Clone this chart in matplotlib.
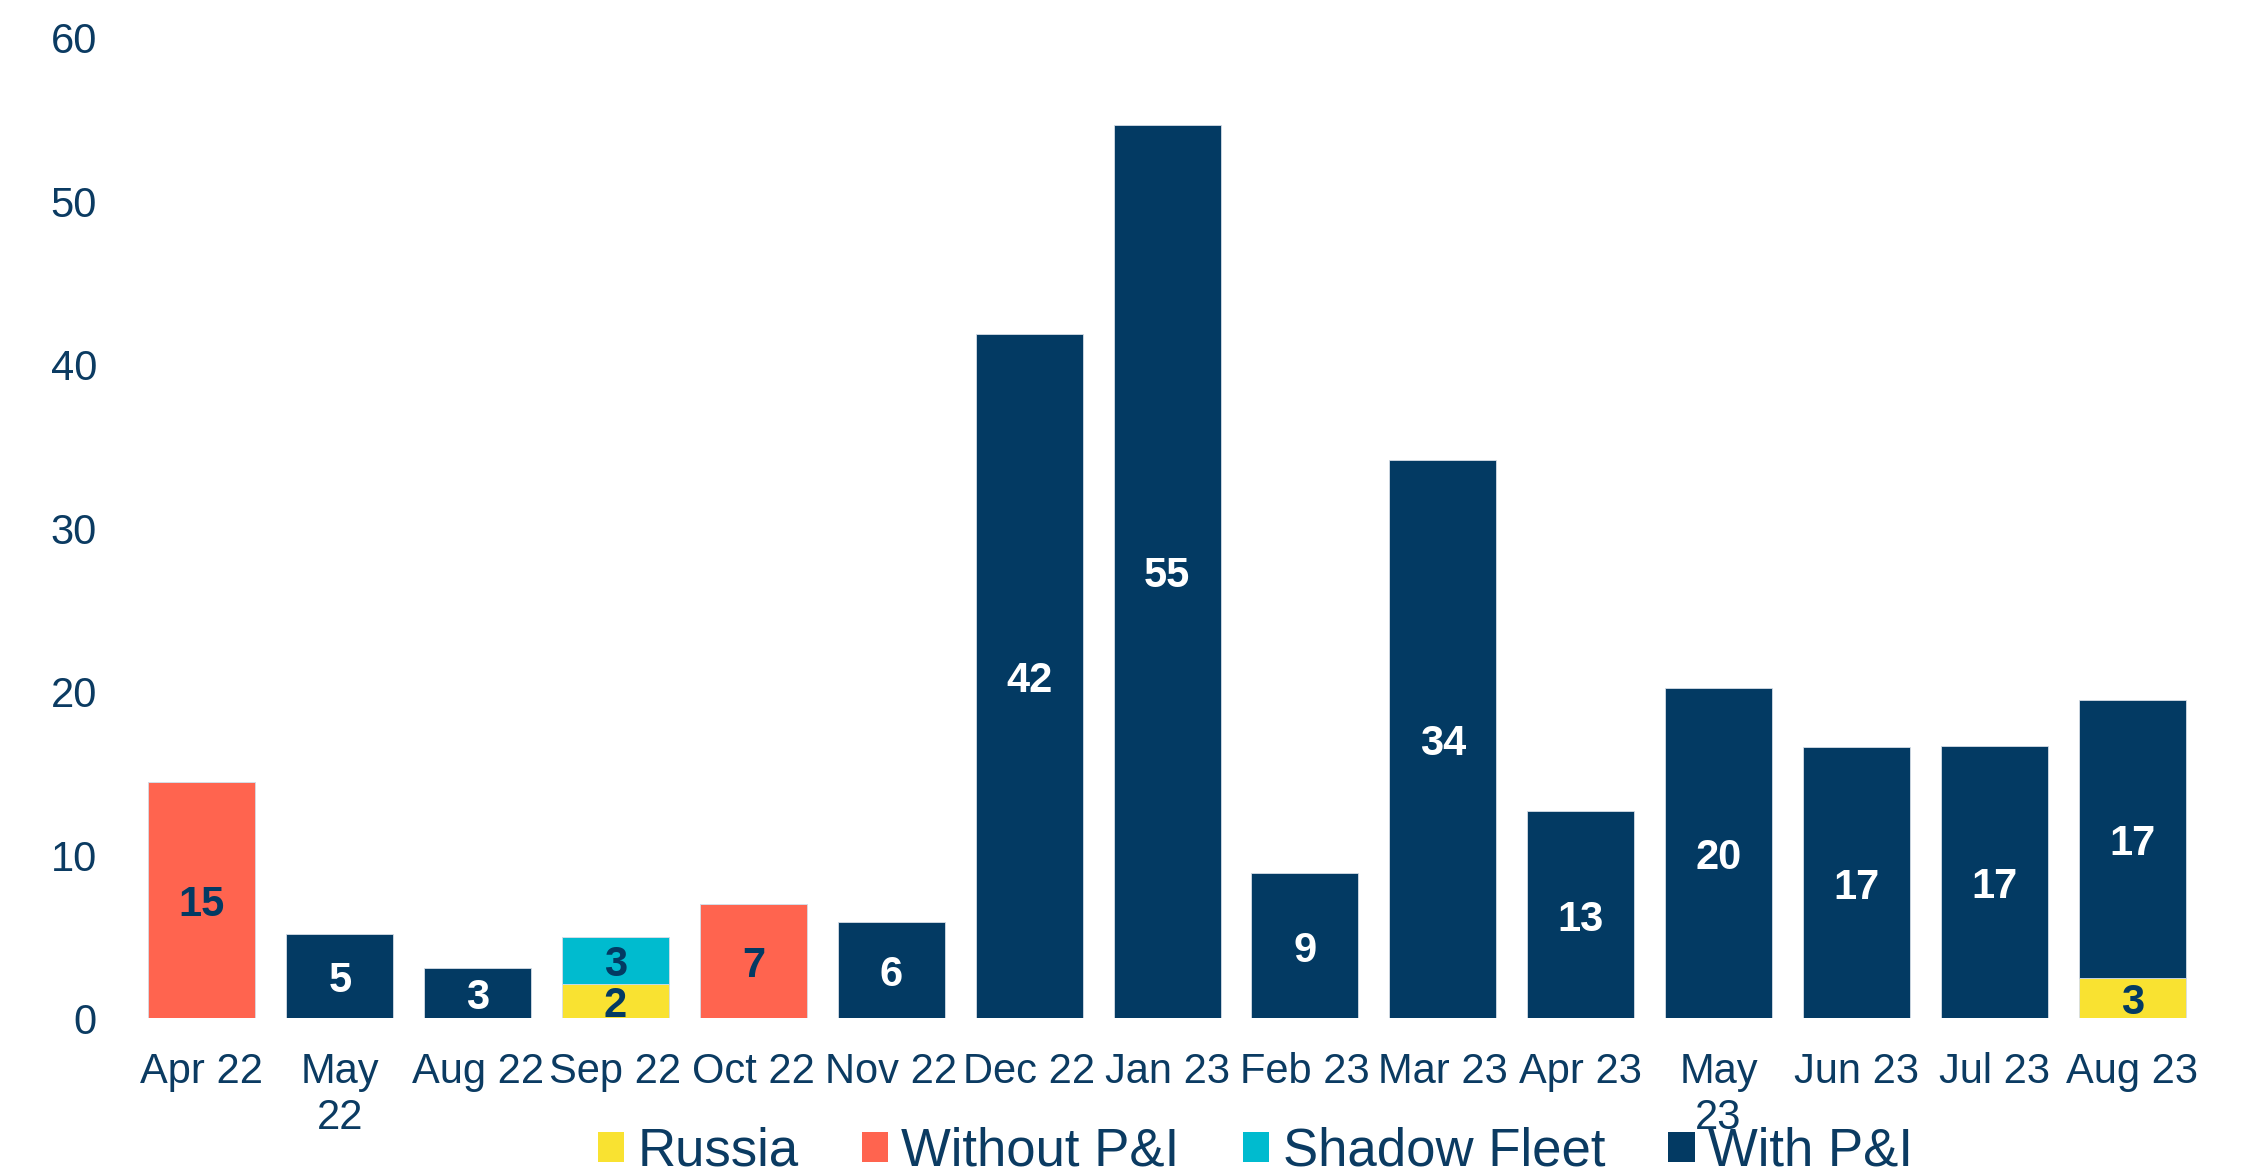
import numpy as np
import matplotlib
matplotlib.use('Agg')
import matplotlib.pyplot as plt
from matplotlib.patches import Patch

plt.rcParams['font.family'] = ['Liberation Sans', 'DejaVu Sans']

# data (bar heights, stacked bottom -> top)
months = ['Apr 22', 'May\n22', 'Aug 22', 'Sep 22', 'Oct 22', 'Nov 22', 'Dec 22',
          'Jan 23', 'Feb 23', 'Mar 23', 'Apr 23', 'May\n23', 'Jun 23', 'Jul 23', 'Aug 23']
russia = [0, 0, 0, 2.1, 0, 0, 0, 0, 0, 0, 0, 0, 0, 0, 2.5]
without_pi = [14.5, 0, 0, 0, 7.0, 0, 0, 0, 0, 0, 0, 0, 0, 0, 0]
shadow_fleet = [0, 0, 0, 2.9, 0, 0, 0, 0, 0, 0, 0, 0, 0, 0, 0]
with_pi = [0, 5.2, 3.1, 0, 0, 5.9, 41.9, 54.7, 8.9, 34.2, 12.7, 20.2, 16.6, 16.7, 17.0]

series = [('Russia', russia, '#F9E231', '#033A63'),
          ('Without P&I', without_pi, '#FF644F', '#033A63'),
          ('Shadow Fleet', shadow_fleet, '#00BBCF', '#033A63'),
          ('With P&I', with_pi, '#033A63', 'white')]
TXT = '#0B3B62'

fig = plt.figure(figsize=(22.58, 11.68), dpi=100)
ax = fig.add_axes([0.0589, 0.128, 0.9159, 0.8395])

x = np.arange(len(months))
bottom = np.zeros(len(months))
for name, vals, col, lab_col in series:
    vals = np.array(vals, dtype=float)
    ax.bar(x, vals, 0.776, bottom=bottom, color=col, edgecolor='#d5dde6', linewidth=0.6)
    for i, v in enumerate(vals):
        if v > 0:
            # labels rounded half up like the source chart
            ax.annotate(str(int(np.floor(v + 0.5))), (x[i], bottom[i] + v / 2),
                        xytext=(0, -3.5), textcoords='offset points',
                        ha='center', va='center', fontsize=30, fontweight='bold', color=lab_col)
    bottom += vals

ax.set_xlim(-0.5, len(months) - 0.5)
ax.set_ylim(0, 60)
ax.set_yticks(range(0, 61, 10))
ax.set_xticks(x)
ax.set_xticklabels(months)
ax.tick_params(axis='y', length=0, pad=26, labelsize=30, labelcolor=TXT)
ax.tick_params(axis='x', length=0, pad=24, labelsize=30, labelcolor=TXT)
for s in ax.spines.values():
    s.set_visible(False)

handles = [Patch(facecolor=c, edgecolor='none', label=n) for n, _, c, _ in series]
leg = fig.legend(handles=handles, loc='center', bbox_to_anchor=(0.556, 0.014), ncol=4,
                 frameon=False, fontsize=38, handlelength=0.5, handleheight=0.5,
                 handletextpad=0.25, columnspacing=1.2, borderpad=0, borderaxespad=0)
for t in leg.get_texts():
    t.set_color(TXT)

fig.savefig('out.png', dpi=100)
